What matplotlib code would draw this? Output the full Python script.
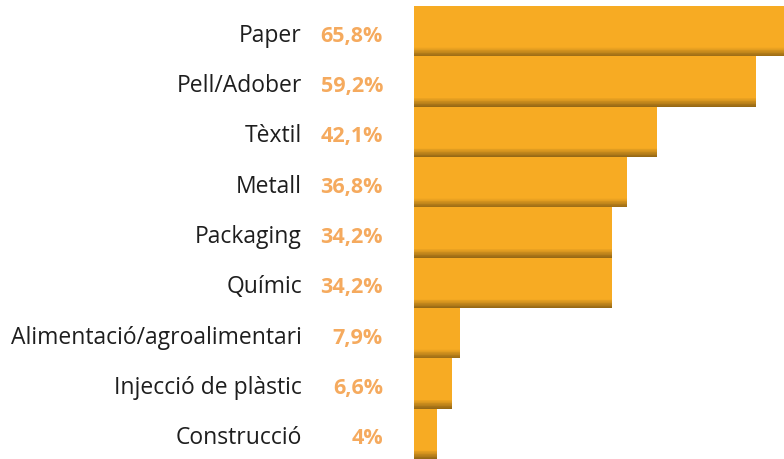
import numpy as np
import matplotlib
matplotlib.use("Agg")
import matplotlib.pyplot as plt
from matplotlib.colors import to_rgb

# ── Data ──────────────────────────────────────────────────────────────────────
sectors = ["Paper", "Pell/Adober", "Tèxtil", "Metall", "Packaging", "Químic",
           "Alimentació/agroalimentari", "Injecció de plàstic", "Construcció"]
values = [65.8, 59.2, 42.1, 36.8, 34.2, 34.2, 7.9, 6.6, 4.0]
value_labels = ["65,8%", "59,2%", "42,1%", "36,8%", "34,2%", "34,2%",
                "7,9%", "6,6%", "4%"]

BAR = "#F7AB23"
DARK = "#936614"
LBL = "#F5AA5E"
TXT = "#1e1e1e"

plt.rcParams["font.family"] = ["Open Sans", "DejaVu Sans"]

fig = plt.figure(figsize=(7.84, 4.59), dpi=100)
ax = fig.add_axes([414 / 784, 0.0, 1 - 414 / 784, 453 / 459])

y = np.arange(len(sectors))
ax.barh(y, values, height=1.0, color=BAR, linewidth=0)

# bottom shadow: thin slices fading from bar colour to dark
n_sl, sh_h = 12, 0.18
c0, c1 = np.array(to_rgb(BAR)), np.array(to_rgb(DARK))
for k in range(n_sl):
    t = (k + 0.5) / n_sl
    col = c0 + (c1 - c0) * t
    yc = y + 0.5 - sh_h + (k + 0.5) * sh_h / n_sl
    ax.barh(yc, values, height=sh_h / n_sl * 1.05, color=col, linewidth=0)

ax.set_xlim(0, 64.0)
ax.set_ylim(len(sectors) - 0.5, -0.5)
ax.axis("off")

PX = 0.72  # points per pixel at dpi 100
for yi, name, lab in zip(y, sectors, value_labels):
    ax.annotate(name, xy=(0, yi), xycoords=("axes fraction", "data"),
                xytext=(-112 * PX, -10.5 * PX), textcoords="offset points",
                ha="right", va="baseline", fontsize=16.5, color=TXT)
    ax.annotate(lab, xy=(0, yi), xycoords=("axes fraction", "data"),
                xytext=(-31 * PX, -10.5 * PX), textcoords="offset points",
                ha="right", va="baseline", fontsize=15.5, color=LBL,
                fontweight="bold")

fig.savefig("out.png", dpi=100)
